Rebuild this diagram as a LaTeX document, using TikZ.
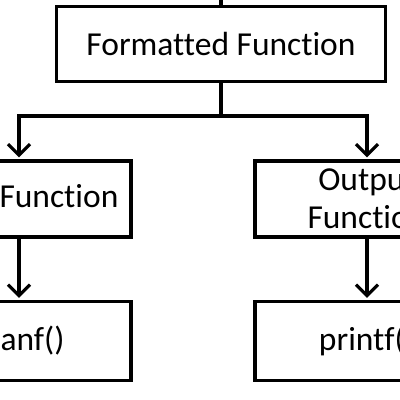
\documentclass[tikz,border=0pt]{standalone}
\usepackage{fontspec}
\setmainfont{Carlito}[Ligatures=NoCommon]
\usetikzlibrary{arrows.meta}
\tikzset{
  fbox/.style={draw, line width=3.2pt, minimum width=224pt, minimum height=77pt, inner sep=0pt, align=center, font=\fontsize{33.5}{38}\selectfont},
  fline/.style={line width=3.2pt},
  farrow/.style={line width=3.2pt, -{Straight Barb[length=11pt,width=22pt]}, shorten >=2pt}
}
\begin{document}
\begin{tikzpicture}[x=1pt,y=-1pt]
\useasboundingbox (0,0) rectangle (400,400);
\clip (0,0) rectangle (400,400);

% Drawing box Formatted Function
\node [fbox, minimum width=329pt, minimum height=75pt] (fmt) at (221,44) {Formatted Function};%
\coordinate (top) at (221,-20);%
\coordinate (split) at (221,116);%

% Drawing boxes of the second row
\node [fbox, minimum height=76pt] (inp) at (19,199) {Input Function};%
\node [fbox, minimum height=76pt] (outp) at (367,199) {Output\\Function};%

% Drawing boxes of the third row
\node [fbox, minimum height=79pt] (scanf) at (19,341) {scanf()};%
\node [fbox, minimum height=79pt] (printf) at (367,341) {printf()};%

% Drawing lines
\draw [fline] (top) -- (fmt);%
\draw [fline] (fmt) -- (split);%
\draw [farrow] (split) -| (inp);%
\draw [farrow] (split) -| (outp);%
\draw [farrow] (inp) -- (scanf);%
\draw [farrow] (outp) -- (printf);%
\end{tikzpicture}
\end{document}
